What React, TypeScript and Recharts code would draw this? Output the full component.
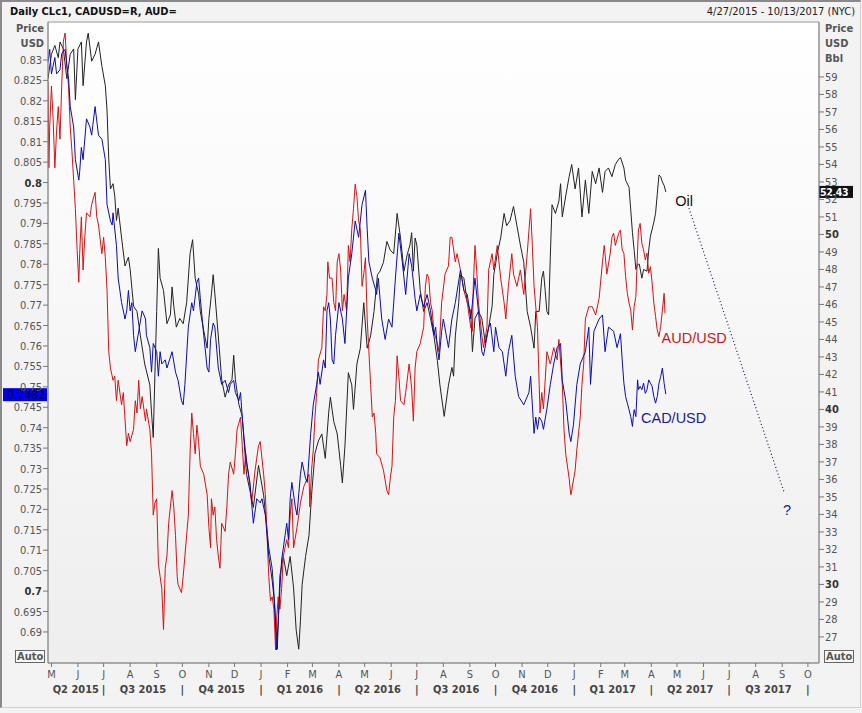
import React from "react";
import {
  ComposedChart,
  Line,
  XAxis,
  YAxis,
  ReferenceArea,
  ReferenceLine,
  ReferenceDot,
} from "recharts";

// x values are days since 27 Apr 2015 (first day shown on the chart)
const oilDay = [
  0, 4, 8, 12, 14, 18, 22, 26, 30, 32,
  35, 39, 41, 45, 47, 51, 55, 59, 63, 67,
  69, 71, 73, 76, 78, 80, 82, 86, 90, 94,
  96, 100, 104, 108, 113, 119, 121, 123, 125, 127,
  129, 131, 135, 139, 143, 145, 147, 150, 154, 158,
  162, 166, 169, 172, 176, 178, 182, 186, 188, 191,
  193, 195, 199, 203, 207, 211, 215, 217, 219, 223,
  227, 232, 240, 246, 252, 258, 262, 265, 268, 271,
  275, 279, 283, 287, 290, 293, 295, 297, 301, 305,
  308, 312, 316, 320, 324, 328, 330, 334, 338, 342,
  344, 347, 351, 355, 357, 361, 365, 369, 373, 377,
  381, 385, 388, 392, 396, 400, 404, 408, 412, 416,
  420, 423, 425, 427, 429, 431, 435, 439, 443, 447,
  451, 455, 458, 463, 468, 472, 474, 476, 480, 482,
  486, 490, 494, 496, 499, 503, 507, 511, 515, 519,
  521, 525, 529, 533, 536, 540, 544, 548, 552, 556,
  560, 564, 568, 570, 574, 577, 579, 581, 583, 585,
  587, 589, 593, 597, 599, 601, 605, 609, 612, 616,
  620, 624, 628, 632, 636, 640, 644, 648, 651, 655,
  659, 663, 667, 669, 673, 675, 679, 681, 683, 685,
  687, 689, 691, 694, 696, 700, 702, 704, 708, 710,
  712, 714, 716, 718, 720, 722,
];
const oilPrice = [
  58.9, 60.3, 60.8, 60.1, 61.0, 60.6, 58.9, 60.3, 60.6, 57.7,
  60.6, 61.0, 58.5, 61.0, 61.5, 59.9, 60.3, 61.0, 59.6, 58.5,
  57.1, 54.3, 52.6, 52.9, 52.2, 50.8, 51.5, 49.8, 48.2, 48.7,
  48.0, 45.9, 45.6, 44.2, 42.6, 41.4, 39.8, 38.4, 42.1, 45.6,
  49.2, 47.5, 46.8, 44.9, 45.4, 47.0, 45.9, 44.7, 45.2, 44.9,
  46.1, 48.9, 49.7, 47.5, 46.6, 45.6, 44.5, 43.5, 45.2, 46.6,
  47.7, 46.6, 44.2, 41.7, 40.7, 41.4, 41.7, 43.1, 41.7, 40.3,
  39.6, 36.3, 34.4, 36.8, 35.1, 32.1, 30.9, 28.8, 26.3, 30.5,
  31.6, 30.5, 31.6, 29.8, 27.4, 26.3, 27.9, 30.0, 31.6, 32.8,
  35.1, 37.5, 38.2, 38.6, 37.2, 39.8, 40.7, 39.3, 38.6, 36.8,
  35.8, 37.9, 42.1, 41.4, 40.0, 42.6, 43.5, 46.1, 43.5, 44.2,
  45.6, 47.7, 47.9, 48.4, 49.6, 49.1, 48.9, 51.2, 49.8, 47.9,
  48.9, 49.4, 50.1, 47.9, 49.8, 49.4, 46.8, 45.6, 46.1, 45.2,
  44.2, 42.8, 41.4, 39.6, 41.4, 42.4, 41.9, 44.2, 46.1, 47.7,
  47.5, 46.1, 45.6, 43.3, 45.2, 45.6, 45.2, 43.8, 44.7, 45.9,
  47.7, 48.9, 49.8, 51.2, 50.5, 50.8, 51.6, 50.5, 49.4, 48.4,
  45.6, 44.7, 43.5, 45.6, 45.6, 47.5, 47.9, 46.8, 45.6, 45.4,
  48.7, 51.7, 51.2, 51.9, 52.9, 51.0, 52.2, 53.3, 54.0, 52.6,
  53.8, 51.0, 53.1, 51.2, 53.6, 52.9, 53.8, 52.4, 53.6, 53.8,
  53.3, 54.0, 54.3, 54.4, 53.8, 53.1, 52.7, 51.4, 50.1, 49.1,
  48.0, 48.3, 48.3, 47.5, 48.0, 47.9, 49.1, 49.9, 50.7, 51.2,
  52.3, 53.4, 53.3, 53.0, 52.8, 52.43,
];

const audDay = [
  0, 1, 2, 4, 6, 8, 10, 12, 14, 16,
  18, 20, 22, 24, 26, 28, 30, 32, 34, 36,
  37, 39, 41, 43, 45, 49, 51, 55, 57, 59,
  63, 65, 67, 69, 71, 73, 76, 78, 80, 82,
  86, 88, 92, 94, 96, 100, 102, 104, 106, 108,
  110, 114, 115, 119, 121, 123, 125, 127, 129, 131,
  133, 135, 137, 139, 141, 145, 147, 149, 151, 152,
  156, 158, 160, 164, 166, 168, 170, 172, 174, 176,
  178, 182, 186, 188, 190, 191, 193, 195, 197, 199,
  201, 203, 207, 209, 211, 213, 217, 219, 221, 225,
  227, 229, 231, 236, 238, 242, 246, 248, 252, 254,
  256, 258, 260, 262, 264, 266, 267, 269, 271, 273,
  275, 279, 281, 283, 285, 287, 291, 295, 299, 303,
  305, 306, 308, 310, 312, 314, 316, 320, 322, 324,
  326, 327, 329, 332, 334, 336, 338, 340, 342, 344,
  346, 349, 351, 353, 355, 357, 359, 361, 363, 365,
  367, 369, 371, 373, 375, 377, 379, 381, 383, 384,
  388, 392, 396, 398, 400, 402, 404, 406, 408, 410,
  412, 416, 418, 422, 425, 427, 429, 431, 435, 439,
  441, 443, 445, 447, 449, 451, 455, 457, 458, 460,
  464, 468, 470, 472, 476, 478, 482, 486, 490, 494,
  496, 497, 499, 501, 503, 507, 509, 513, 515, 519,
  521, 525, 529, 533, 535, 538, 542, 544, 548, 552,
  556, 560, 564, 566, 568, 572, 574, 575, 577, 579,
  583, 587, 591, 595, 597, 601, 603, 605, 609, 611,
  612, 616, 618, 622, 624, 626, 628, 632, 636, 640,
  644, 648, 650, 651, 653, 657, 659, 661, 663, 667,
  669, 671, 673, 675, 677, 679, 681, 683, 685, 687,
  689, 690, 692, 694, 696, 698, 700, 702, 704, 706,
  708, 710, 712, 714, 716, 718, 720, 721,
];
const audRate = [
  0.8246, 0.8036, 0.8136, 0.8236, 0.8156, 0.8036, 0.8126, 0.8186, 0.8106, 0.8236,
  0.8346, 0.8366, 0.8286, 0.8236, 0.8136, 0.8076, 0.8006, 0.7936, 0.7836, 0.7756,
  0.7826, 0.7916, 0.7786, 0.7866, 0.7926, 0.7916, 0.7946, 0.7976, 0.7916, 0.7896,
  0.7826, 0.7866, 0.7816, 0.7736, 0.7586, 0.7546, 0.7516, 0.7526, 0.7466, 0.7516,
  0.7456, 0.7486, 0.7356, 0.7386, 0.7366, 0.7396, 0.7466, 0.7436, 0.7516, 0.7446,
  0.7476, 0.7416, 0.7446, 0.7396, 0.7336, 0.7186, 0.7216, 0.7226, 0.7066, 0.7036,
  0.7006, 0.6906, 0.7056, 0.7086, 0.7166, 0.7246, 0.7206, 0.7136, 0.7036, 0.7016,
  0.6996, 0.7036, 0.7086, 0.7186, 0.7336, 0.7436, 0.7386, 0.7336, 0.7406, 0.7366,
  0.7306, 0.7286, 0.7236, 0.7156, 0.7106, 0.7226, 0.7186, 0.7206, 0.7126, 0.7086,
  0.7056, 0.7166, 0.7146, 0.7206, 0.7286, 0.7316, 0.7286, 0.7336, 0.7396, 0.7426,
  0.7356, 0.7286, 0.7336, 0.7256, 0.7216, 0.7296, 0.7356, 0.7366, 0.7286, 0.7236,
  0.7136, 0.7036, 0.6976, 0.6986, 0.6956, 0.6856, 0.6926, 0.6986, 0.6956, 0.7006,
  0.7086, 0.7126, 0.7106, 0.7186, 0.7226, 0.7106, 0.7156, 0.7216, 0.7256, 0.7276,
  0.7286, 0.7206, 0.7296, 0.7346, 0.7426, 0.7486, 0.7566, 0.7596, 0.7696, 0.7686,
  0.7726, 0.7806, 0.7766, 0.7766, 0.7706, 0.7686, 0.7806, 0.7826, 0.7786, 0.7686,
  0.7726, 0.7686, 0.7846, 0.7806, 0.7886, 0.7936, 0.7996, 0.7966, 0.7906, 0.7886,
  0.7746, 0.7776, 0.7816, 0.7666, 0.7586, 0.7506, 0.7426, 0.7436, 0.7386, 0.7336,
  0.7326, 0.7296, 0.7246, 0.7236, 0.7276, 0.7306, 0.7426, 0.7466, 0.7576, 0.7526,
  0.7466, 0.7456, 0.7486, 0.7556, 0.7496, 0.7416, 0.7546, 0.7586, 0.7606, 0.7646,
  0.7746, 0.7776, 0.7766, 0.7706, 0.7686, 0.7636, 0.7606, 0.7586, 0.7626, 0.7706,
  0.7776, 0.7796, 0.7866, 0.7866, 0.7806, 0.7826, 0.7786, 0.7736, 0.7706, 0.7646,
  0.7636, 0.7746, 0.7846, 0.7786, 0.7706, 0.7626, 0.7596, 0.7646, 0.7786, 0.7826,
  0.7786, 0.7846, 0.7766, 0.7706, 0.7666, 0.7746, 0.7826, 0.7776, 0.7746, 0.7786,
  0.7726, 0.7826, 0.7936, 0.7846, 0.7746, 0.7646, 0.7506, 0.7436, 0.7486, 0.7446,
  0.7586, 0.7556, 0.7596, 0.7566, 0.7616, 0.7506, 0.7396, 0.7336, 0.7276, 0.7236,
  0.7246, 0.7296, 0.7346, 0.7426, 0.7506, 0.7556, 0.7666, 0.7696, 0.7696, 0.7676,
  0.7716, 0.7806, 0.7846, 0.7826, 0.7776, 0.7826, 0.7866, 0.7876, 0.7846, 0.7876,
  0.7884, 0.7835, 0.7827, 0.777, 0.7729, 0.7705, 0.7688, 0.7639, 0.7697, 0.7721,
  0.7835, 0.7884, 0.79, 0.7851, 0.7835, 0.7811, 0.7827, 0.7778, 0.7794, 0.7754,
  0.7705, 0.7672, 0.7639, 0.7623, 0.7648, 0.7688, 0.7729, 0.768,
];

const cadDay = [
  0, 2, 4, 8, 10, 14, 16, 20, 22, 24,
  26, 30, 32, 36, 37, 39, 41, 45, 49, 51,
  55, 59, 63, 67, 69, 73, 75, 76, 80, 82,
  86, 90, 92, 94, 96, 98, 100, 102, 106, 110,
  114, 115, 119, 121, 123, 127, 129, 131, 133, 137,
  139, 145, 149, 152, 156, 158, 160, 164, 168, 170,
  174, 176, 178, 182, 186, 188, 190, 193, 195, 199,
  203, 207, 211, 213, 217, 219, 223, 225, 227, 229,
  232, 236, 240, 244, 248, 250, 254, 258, 262, 264,
  266, 267, 268, 271, 273, 277, 279, 281, 283, 285,
  289, 291, 295, 297, 301, 303, 307, 310, 314, 316,
  318, 322, 324, 326, 328, 330, 332, 334, 336, 340,
  344, 347, 349, 351, 355, 359, 361, 363, 367, 371,
  373, 375, 379, 383, 384, 386, 390, 394, 398, 402,
  406, 410, 414, 418, 422, 425, 429, 431, 435, 439,
  443, 447, 451, 453, 455, 457, 460, 462, 468, 472,
  476, 482, 486, 490, 494, 499, 503, 507, 509, 515,
  517, 521, 523, 527, 531, 535, 538, 542, 546, 550,
  556, 562, 564, 568, 570, 572, 574, 577, 579, 583,
  587, 591, 595, 599, 601, 605, 609, 611, 614, 618,
  622, 628, 632, 634, 638, 644, 648, 651, 655, 661,
  665, 669, 671, 673, 675, 677, 679, 681, 683, 684,
  685, 687, 689, 690, 692, 694, 696, 698, 700, 702,
  704, 706, 708, 710, 712, 714, 716, 718, 720, 722,
];
const cadRate = [
  0.8296, 0.8326, 0.8266, 0.8306, 0.8266, 0.8276, 0.8316, 0.8326, 0.8286, 0.8256,
  0.8186, 0.8136, 0.8056, 0.8006, 0.8026, 0.8086, 0.8056, 0.8156, 0.8136, 0.8116,
  0.8186, 0.8116, 0.8106, 0.8056, 0.7946, 0.7906, 0.7896, 0.7926, 0.7846, 0.7766,
  0.7706, 0.7666, 0.7686, 0.7736, 0.7686, 0.7706, 0.7626, 0.7586, 0.7636, 0.7686,
  0.7666, 0.7626, 0.7596, 0.7536, 0.7606, 0.7586, 0.7526, 0.7586, 0.7556, 0.7566,
  0.7546, 0.7586, 0.7536, 0.7516, 0.7466, 0.7456, 0.7506, 0.7646, 0.7706, 0.7686,
  0.7756, 0.7766, 0.7716, 0.7626, 0.7546, 0.7536, 0.7616, 0.7656, 0.7646, 0.7546,
  0.7506, 0.7516, 0.7486, 0.7506, 0.7516, 0.7486, 0.7466, 0.7486, 0.7426, 0.7376,
  0.7316, 0.7266, 0.7166, 0.7226, 0.7216, 0.7226, 0.7186, 0.7086, 0.7026, 0.6986,
  0.6916, 0.6856, 0.6886, 0.7006, 0.7076, 0.7136, 0.7166, 0.7126, 0.7226, 0.7266,
  0.7206, 0.7186, 0.7286, 0.7316, 0.7276, 0.7266, 0.7386, 0.7456, 0.7506, 0.7536,
  0.7506, 0.7566, 0.7546, 0.7686, 0.7706, 0.7666, 0.7566, 0.7556, 0.7626, 0.7706,
  0.7666, 0.7606, 0.7686, 0.7766, 0.7826, 0.7906, 0.7886, 0.7866, 0.7946, 0.7981,
  0.7886, 0.7806, 0.7766, 0.7736, 0.7726, 0.7766, 0.7666, 0.7616, 0.7666, 0.7646,
  0.7766, 0.7876, 0.7806, 0.7726, 0.7826, 0.7796, 0.7716, 0.7686, 0.7726, 0.7696,
  0.7726, 0.7686, 0.7626, 0.7646, 0.7596, 0.7566, 0.7636, 0.7666, 0.7596, 0.7666,
  0.7706, 0.7786, 0.7736, 0.7726, 0.7666, 0.7766, 0.7686, 0.7586, 0.7576, 0.7646,
  0.7656, 0.7586, 0.7646, 0.7596, 0.7586, 0.7526, 0.7586, 0.7626, 0.7526, 0.7476,
  0.7456, 0.7486, 0.7526, 0.7386, 0.7426, 0.7396, 0.7426, 0.7416, 0.7396, 0.7446,
  0.7506, 0.7556, 0.7596, 0.7606, 0.7516, 0.7466, 0.7386, 0.7366, 0.7406, 0.7506,
  0.7556, 0.7586, 0.7646, 0.7506, 0.7636, 0.7666, 0.7676, 0.7586, 0.7646, 0.7636,
  0.7596, 0.763, 0.7566, 0.7509, 0.7476, 0.746, 0.7444, 0.7427, 0.7403, 0.7427,
  0.7444, 0.7427, 0.7517, 0.7493, 0.7501, 0.7493, 0.7509, 0.7484, 0.7493, 0.7517,
  0.7509, 0.7501, 0.7476, 0.746, 0.7476, 0.7509, 0.7525, 0.7546, 0.7509, 0.7482,
];

const fxTicks = [
  0.69, 0.695, 0.7, 0.705, 0.71, 0.715, 0.72, 0.725, 0.73, 0.735,
  0.74, 0.745, 0.75, 0.755, 0.76, 0.765, 0.77, 0.775, 0.78, 0.785,
  0.79, 0.795, 0.8, 0.805, 0.81, 0.815, 0.82, 0.825, 0.83,
];
const oilTicks = [
  27, 28, 29, 30, 31, 32, 33, 34, 35, 36, 37, 38, 39, 40, 41, 42, 43,
  44, 45, 46, 47, 48, 49, 50, 51, 52, 53, 54, 55, 56, 57, 58, 59,
];
const monthStarts = [
  "2015-05-01", "2015-06-01", "2015-07-01", "2015-08-01", "2015-09-01", "2015-10-01",
  "2015-11-01", "2015-12-01", "2016-01-01", "2016-02-01", "2016-03-01", "2016-04-01",
  "2016-05-01", "2016-06-01", "2016-07-01", "2016-08-01", "2016-09-01", "2016-10-01",
  "2016-11-01", "2016-12-01", "2017-01-01", "2017-02-01", "2017-03-01", "2017-04-01",
  "2017-05-01", "2017-06-01", "2017-07-01", "2017-08-01", "2017-09-01", "2017-10-01",
];
const quarterStarts = [
  "2015-04-01", "2015-07-01", "2015-10-01", "2016-01-01", "2016-04-01", "2016-07-01",
  "2016-10-01", "2017-01-01", "2017-04-01", "2017-07-01", "2017-10-01",
];
const quarterLabels = [
  "Q2 2015", "Q3 2015", "Q4 2015", "Q1 2016", "Q2 2016",
  "Q3 2016", "Q4 2016", "Q1 2017", "Q2 2017", "Q3 2017",
];

const START = Date.UTC(2015, 3, 27);
const END_DAY = 901; // 13 Oct 2017
const dayOf = (iso: string) => Math.round((Date.parse(iso) - START) / 86400000);

const toPoints = (days: number[], vals: number[]) => days.map((d, i) => ({ day: d, v: vals[i] }));
const oilData = toPoints(oilDay, oilPrice);
const audData = toPoints(audDay, audRate);
const cadData = toPoints(cadDay, cadRate);

const monthDays = monthStarts.map(dayOf);
const monthLetter = new Map(monthStarts.map((m) => [dayOf(m), "JFMAMJJASOND"[Number(m.slice(5, 7)) - 1]]));
const qBounds = quarterStarts.map(dayOf);
const qMids = quarterLabels.map((_, i) => (Math.max(0, qBounds[i]) + qBounds[i + 1]) / 2);
const qLabelAt = new Map(qMids.map((d, i) => [d, quarterLabels[i]]));
const qSeps = qBounds.slice(1);
const qTicks = [...qMids, ...qSeps].sort((a, b) => a - b);

const FX_DOMAIN: [number, number] = [0.6824, 0.8393];
const OIL_DOMAIN: [number, number] = [25.51, 62.14];

const FONT = "Tahoma, 'DejaVu Sans Condensed', 'DejaVu Sans', sans-serif";
const NOTE_FONT = "'Liberation Sans', Arial, sans-serif";
const GREY = "#555";
const AXIS = "#8c8c8c";

const FxTick = (p: any) => {
  const v = p.payload.value;
  const strong = v === 0.7 || v === 0.8;
  return (
    <text x={p.x} y={p.y} dy={4} textAnchor="end" fontSize={11} fontFamily={FONT}
      fill={strong ? "#333" : GREY} fontWeight={strong ? "bold" : "normal"}>
      {String(v)}
    </text>
  );
};

const OilTick = (p: any) => {
  const v = p.payload.value;
  const strong = v % 10 === 0;
  return (
    <text x={p.x} y={p.y} dy={4} textAnchor="start" fontSize={11} fontFamily={FONT}
      fill={strong ? "#333" : GREY} fontWeight={strong ? "bold" : "normal"}>
      {v}
    </text>
  );
};

const MonthTick = (p: any) => (
  <text x={p.x} y={p.y} dy={9} textAnchor="middle" fontSize={11} fontFamily={FONT} fill={GREY}>
    {monthLetter.get(p.payload.value) ?? ""}
  </text>
);

const QuarterTick = (p: any) => {
  const label = qLabelAt.get(p.payload.value);
  return (
    <text x={p.x} y={p.y} dy={10} textAnchor="middle" fontSize={11} fontFamily={FONT}
      fill="#444" fontWeight="bold">
      {label ?? "|"}
    </text>
  );
};

const note = (text: string, color: string) => (p: any) => (
  <text x={p.viewBox.x} y={p.viewBox.y} fill={color} fontSize={14.5} fontFamily={NOTE_FONT}>
    {text}
  </text>
);

const oilTag = (p: any) => {
  const { x, y, width } = p.viewBox;
  return (
    <g>
      <rect x={x + width} y={y - 6} width={34} height={12} fill="#111" />
      <text x={x + width + 1} y={y + 4} fill="#fff" fontSize={10.5} fontWeight="bold"
        letterSpacing={-0.3} fontFamily={FONT}>
        52.43
      </text>
    </g>
  );
};

const fxTag = (p: any) => {
  const { x, y } = p.viewBox;
  return (
    <g>
      <rect x={x - 45} y={y - 6} width={44} height={13} fill="#0000ee" />
      <text x={x - 3} y={y + 5} textAnchor="end" fill="#000066" fontSize={12} fontFamily={FONT}>
        0.7482
      </text>
    </g>
  );
};

const sideTitle: React.CSSProperties = {
  position: "absolute",
  fontFamily: FONT,
  fontSize: 11,
  fontWeight: "bold",
  color: GREY,
  lineHeight: "15px",
};

const autoBox: React.CSSProperties = {
  position: "absolute",
  border: "1px solid #666",
  fontFamily: FONT,
  fontSize: 11,
  fontWeight: "bold",
  color: GREY,
  lineHeight: "11px",
  padding: "0 1px",
  background: "#f6f6f6",
};

export default function App() {
  return (
    <div style={{ position: "relative", width: 862, height: 713, background: "#f3f3f3", overflow: "hidden" }}>
      <style>{`body{margin:0}`}</style>
      <div style={{ position: "absolute", left: 0, top: 0, width: 858, height: 705,
        borderLeft: "2px solid #8a8a8a", borderTop: "2px solid #8a8a8a",
        borderRight: "1px solid #d0d0d0", borderBottom: "1px solid #d0d0d0" }} />
      <div style={{ position: "absolute", left: 10, top: 5, fontFamily: FONT, fontSize: 11, fontWeight: "bold", color: "#111" }}>
        Daily CLc1, CADUSD=R, AUD=
      </div>
      <div style={{ position: "absolute", right: 7, top: 5, fontFamily: FONT, fontSize: 11, color: "#222" }}>
        4/27/2015 - 10/13/2017 (NYC)
      </div>
      <div style={{ ...sideTitle, left: 0, width: 44, top: 21, textAlign: "right" }}>
        Price<br />USD
      </div>
      <div style={{ ...sideTitle, left: 825, top: 21 }}>
        Price<br />USD<br />Bbl
      </div>
      <div style={{ ...autoBox, left: 15, top: 650 }}>Auto</div>
      <div style={{ ...autoBox, left: 824, top: 650 }}>Auto</div>

      <div style={{ position: "absolute", left: 0, top: 0 }}>
        <ComposedChart width={862} height={713} margin={{ top: 22, right: 0, bottom: 0, left: 0 }}>
          <defs>
            <linearGradient id="plotBg" x1="0" y1="0" x2="0" y2="1">
              <stop offset="0%" stopColor="#ffffff" />
              <stop offset="100%" stopColor="#eeeeee" />
            </linearGradient>
          </defs>
          <XAxis xAxisId="m" dataKey="day" type="number" domain={[0, END_DAY]} allowDataOverflow
            ticks={monthDays} interval={0} height={20} tickSize={4} tickMargin={2}
            axisLine={{ stroke: AXIS }} tickLine={{ stroke: "#777" }} tick={<MonthTick />} />
          <XAxis xAxisId="q" dataKey="day" type="number" domain={[0, END_DAY]} allowDataOverflow
            ticks={qTicks} interval={0} height={30} tickSize={0} tickMargin={0}
            axisLine={false} tickLine={false} tick={<QuarterTick />} />
          <YAxis yAxisId="fx" orientation="left" width={48} type="number" domain={FX_DOMAIN}
            allowDataOverflow ticks={fxTicks} interval={0} tickSize={5} tickMargin={1}
            axisLine={{ stroke: AXIS }} tickLine={{ stroke: "#777" }} tick={<FxTick />} />
          <YAxis yAxisId="oil" orientation="right" width={43} type="number" domain={OIL_DOMAIN}
            allowDataOverflow ticks={oilTicks} interval={0} tickSize={5} tickMargin={1}
            axisLine={{ stroke: AXIS }} tickLine={{ stroke: "#777" }} tick={<OilTick />} />

          <ReferenceArea xAxisId="m" yAxisId="fx" x1={0} x2={END_DAY} y1={FX_DOMAIN[0]} y2={FX_DOMAIN[1]}
            fill="url(#plotBg)" fillOpacity={1} stroke="#9a9a9a" />

          <Line data={oilData} dataKey="v" xAxisId="m" yAxisId="oil" type="linear" stroke="#222"
            strokeWidth={1} dot={false} isAnimationActive={false} />
          <Line data={audData} dataKey="v" xAxisId="m" yAxisId="fx" type="linear" stroke="#d01515"
            strokeWidth={1} dot={false} isAnimationActive={false} />
          <Line data={cadData} dataKey="v" xAxisId="m" yAxisId="fx" type="linear" stroke="#0c0ca8"
            strokeWidth={1} dot={false} isAnimationActive={false} />

          <ReferenceLine xAxisId="m" yAxisId="oil" segment={[{ x: 749, y: 51.5 }, { x: 860, y: 35.3 }]}
            stroke="#1a1a50" strokeWidth={1.2} strokeDasharray="1 2.5" />
          <ReferenceLine xAxisId="m" yAxisId="oil" y={52.43} stroke="none" label={oilTag} />
          <ReferenceLine xAxisId="m" yAxisId="fx" y={0.7482} stroke="none" label={fxTag} />

          <ReferenceDot xAxisId="m" yAxisId="oil" x={733} y={51.6} r={0} fill="none" stroke="none"
            label={note("Oil", "#111")} />
          <ReferenceDot xAxisId="m" yAxisId="fx" x={717} y={0.7607} r={0} fill="none" stroke="none"
            label={note("AUD/USD", "#c41a1a")} />
          <ReferenceDot xAxisId="m" yAxisId="fx" x={693} y={0.7412} r={0} fill="none" stroke="none"
            label={note("CAD/USD", "#1a1a9a")} />
          <ReferenceDot xAxisId="m" yAxisId="oil" x={859} y={33.97} r={0} fill="none" stroke="none"
            label={note("?", "#1a237e")} />
        </ComposedChart>
      </div>
    </div>
  );
}
